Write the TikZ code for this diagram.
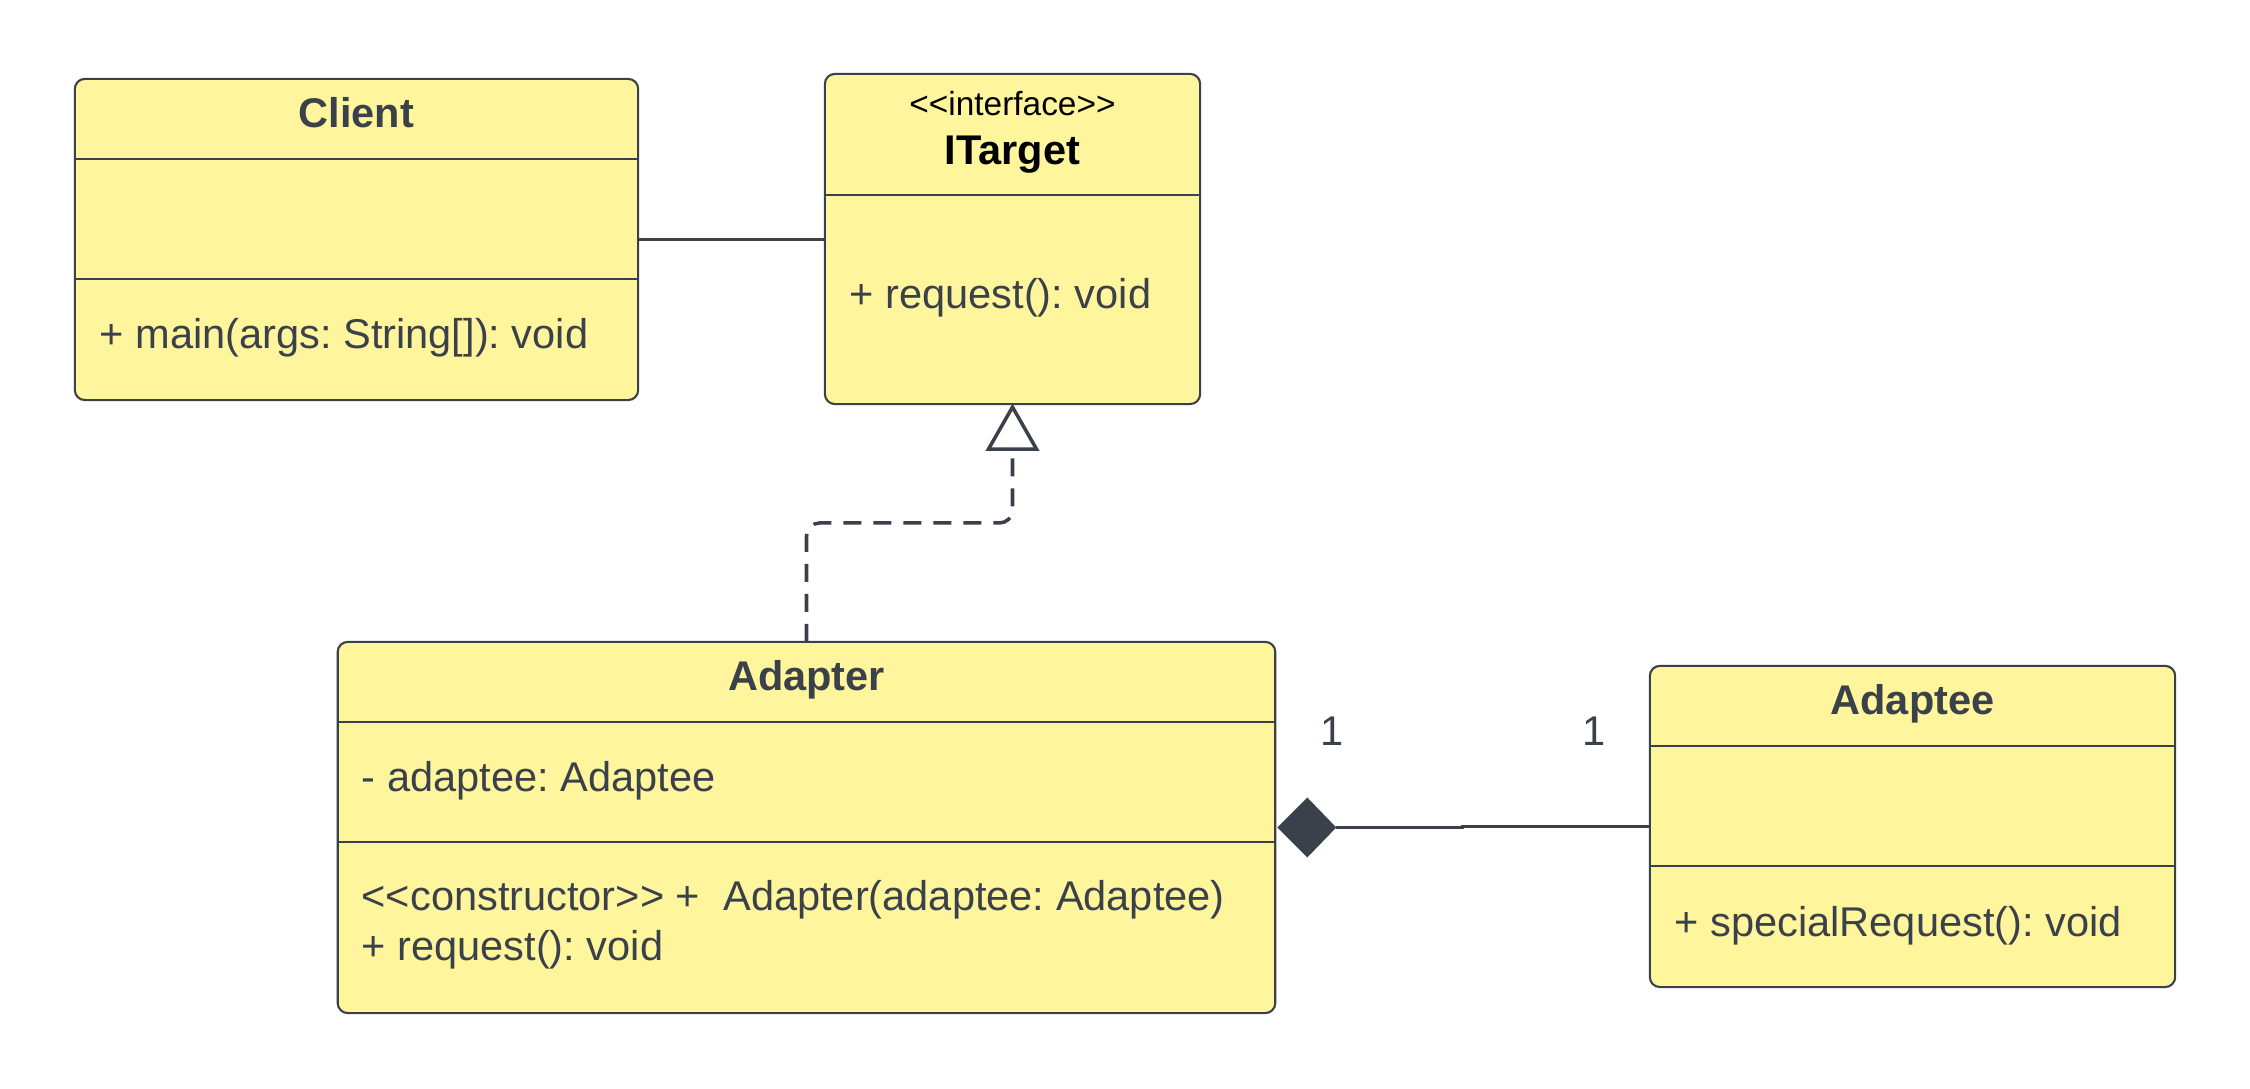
\documentclass[tikz,border=0pt]{standalone}
\usepackage{fontspec}
\setmainfont{Liberation Sans}[Ligatures=TeXOff]
\definecolor{ink}{HTML}{3A414A}
\definecolor{umlfill}{HTML}{FFF59D}
\frenchspacing
\begin{document}
\begin{tikzpicture}[x=0.01cm,y=-0.01cm,
  classbox/.style={draw=ink, fill=umlfill, line width=0.6pt, rounded corners=0.1cm, inner sep=0pt, outer sep=0pt},
  divider/.style={draw=ink, line width=0.6pt},
  clstitle/.style={font=\fontsize{11.8}{14}\selectfont\bfseries, text=ink, anchor=base, inner sep=0pt},
  memberline/.style={font=\fontsize{11.82}{14}\selectfont, text=ink, anchor=base west, inner sep=0pt},
  stereo/.style={font=\fontsize{9.5}{11}\selectfont, text=black, anchor=base, inner sep=0pt},
  conn/.style={draw=ink, line width=0.85pt},
  dashline/.style={line width=1pt, dash pattern=on 0.18cm off 0.12cm}
]
\useasboundingbox (0,0) rectangle (2250,1089);

% Client
\node[classbox, minimum width=5.63cm, minimum height=3.21cm] (client) at (356.5,239.5) {};
\draw[divider] (client.west |- 0,159) -- (client.east |- 0,159);
\draw[divider] (client.west |- 0,279) -- (client.east |- 0,279);
\node[clstitle] (clientname) at (356.5,128) {Client};
\node[memberline] (clientop) at (99,349) {+ main(args: String[]): void};

% ITarget
\node[classbox, minimum width=3.75cm, minimum height=3.30cm] (itarget) at (1012.5,239) {};
\draw[divider] (itarget.west |- 0,195) -- (itarget.east |- 0,195);
\node[stereo] (itstereo) at (1012.5,116) {<<interface>>};
\node[clstitle, text=black] (itname) at (1012.5,165) {ITarget};
\node[memberline] (itop) at (849,309) {+ request(): void};

% Adapter
\node[classbox, minimum width=9.37cm, minimum height=3.71cm] (adapter) at (806.5,827.5) {};
\draw[divider] (adapter.west |- 0,722) -- (adapter.east |- 0,722);
\draw[divider] (adapter.west |- 0,842) -- (adapter.east |- 0,842);
\node[clstitle] (adname) at (806.5,691) {Adapter};
\node[memberline] (adfield) at (361,792) {- adaptee: Adaptee};
\node[memberline] (adop1) at (361,911) {<<constructor>> +\ \ Adapter(adaptee: Adaptee)};
\node[memberline] (adop2) at (361,961) {+ request(): void};

% Adaptee
\node[classbox, minimum width=5.25cm, minimum height=3.21cm] (adaptee) at (1912.5,826.5) {};
\draw[divider] (adaptee.west |- 0,746) -- (adaptee.east |- 0,746);
\draw[divider] (adaptee.west |- 0,866) -- (adaptee.east |- 0,866);
\node[clstitle] (aename) at (1912.5,715) {Adaptee};
\node[memberline] (aeop) at (1674,937) {+ specialRequest(): void};

% Client -- ITarget association
\draw[conn, line width=0.6pt] (client.east) -- (client.east -| itarget.west);

% Realization Adapter -> ITarget
\coordinate (tribase) at (itarget.south |- 0,449);
\draw[conn, dashline, rounded corners=0.13cm] (adapter.north) |- (itarget.south |- 0,523) -- (tribase);
\draw[conn, line width=1pt, fill=white, line join=miter] (itarget.south) ++(0,3) coordinate (triapex) -- ++(-24,42) -- ++(48,0) -- cycle;

% Composition Adapter <>-- Adaptee
\path (adapter.east) ++(2,0) coordinate (dleft) ++(59,0) coordinate (dtip);
\fill[ink] (dleft) -- ++(30,-30) -- (dtip) -- ++(-29,30) -- cycle;
\draw[conn] (dtip) -- ++(126,0) |- (adaptee.west);
\node[memberline, anchor=base] (mult1) at (1332,746) {1};
\node[memberline, anchor=base] (mult2) at (1594,746) {1};
\end{tikzpicture}
\end{document}
